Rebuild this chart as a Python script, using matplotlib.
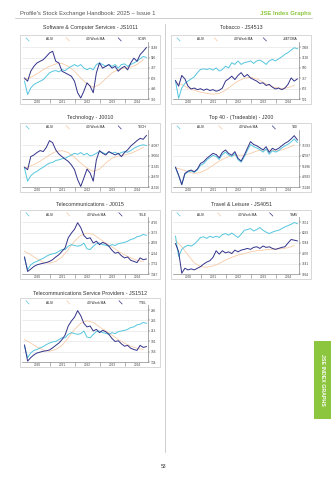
import numpy as np
import matplotlib
matplotlib.use('Agg')
import matplotlib.pyplot as plt
from matplotlib.lines import Line2D
from matplotlib.patches import Rectangle
from matplotlib.legend_handler import HandlerBase
from matplotlib.ticker import FixedLocator, NullLocator

plt.rcParams['font.family'] = ['Liberation Sans', 'DejaVu Sans']

W, H = 331, 480

# sample dates (decimal years), ~every 6.5 weeks; MA every quarter
dates = np.arange(2020.0, 2024.9, 0.125)
ma_dates = np.arange(2020.0, 2024.9, 0.25)
years = [2020, 2021, 2022, 2023, 2024]

# Software & Computer Services - JS1011
soft_ticks = [392, 486, 603, 747, 926, 1148]
soft_idx = [606, 568, 698, 772, 829, 858, 887, 948, 1019, 1055,
            858, 829, 698, 675, 652, 629, 568, 447, 401, 462,
            549, 512, 447, 675, 829, 744, 772, 801, 744, 772,
            698, 744, 772, 718, 829, 915, 858, 984, 1055, 1141]
soft_alsi = [568, 431, 493, 530, 549, 568, 587, 629, 675, 698,
             707, 689, 721, 707, 744, 772, 801, 772, 801, 744,
             721, 744, 721, 801, 829, 801, 772, 801, 772, 801,
             744, 801, 813, 772, 801, 829, 858, 905, 948, 928]
soft_ma = [587, 615, 661, 721, 772, 813, 819, 772, 698, 606,
           537, 500, 530, 597, 675, 721, 744, 761, 801, 887]

# Tobacco - JS4513
toba_ticks = [521, 632, 767, 930, 1128, 1368]
toba_idx = [736, 663, 809, 759, 663, 629, 640, 621, 632, 614,
            629, 611, 621, 603, 614, 640, 728, 759, 798, 749,
            809, 852, 788, 824, 772, 749, 728, 697, 706, 671,
            685, 650, 629, 640, 621, 640, 685, 772, 728, 759]
toba_alsi = [728, 528, 640, 697, 728, 759, 788, 852, 904, 914,
             904, 920, 893, 930, 878, 904, 962, 930, 1025, 993,
             1059, 993, 1025, 1039, 1059, 1013, 1059, 1077, 1039, 993,
             1059, 1090, 1059, 1102, 1142, 1198, 1236, 1298, 1354, 1330]
toba_ma = [706, 685, 640, 614, 593, 579, 571, 579, 614, 671,
           728, 767, 783, 759, 714, 671, 645, 635, 645, 671]

# Technology - J0010
tech_ticks = [21316, 25870, 31345, 38004, 46087]
tech_idx = [30743, 29374, 37338, 38489, 40267, 41722, 40995, 44309, 50106, 48243,
            42287, 39216, 37338, 35673, 34208, 32078, 29374, 24458, 21589, 25187,
            29703, 27622, 23775, 35207, 41722, 39701, 38489, 40995, 39701, 38489,
            39701, 37338, 40267, 42287, 45360, 47655, 50106, 52262, 51379, 55086]
tech_alsi = [30250, 23775, 26253, 27622, 28498, 29703, 30743, 32078, 33143, 33542,
             34808, 35207, 35873, 36273, 37338, 38489, 39701, 38974, 40267, 38489,
             39701, 37737, 38489, 39701, 40995, 40267, 39216, 40510, 39701, 40510,
             39216, 40267, 40995, 40510, 41722, 43581, 44794, 45845, 46381, 45845]
tech_ma = [30250, 31478, 33143, 35673, 38489, 40995, 41722, 40267, 36872, 33143,
           30250, 28498, 29703, 33143, 36273, 37737, 38489, 39701, 41722, 44309]

# Top 40 - (Tradeable) - J200
t40_ticks = [35248, 42683, 51686, 62587, 75783]
t40_idx = [50696, 43763, 36884, 45204, 47185, 48085, 46645, 48985, 54302, 56046,
           59535, 62369, 65226, 63907, 60189, 66546, 69449, 65226, 63115, 67338,
           59535, 56700, 63115, 71560, 80896, 76742, 74991, 72352, 69449, 73668,
           66546, 71560, 69449, 71560, 74991, 78340, 80896, 85050, 90163, 83452]
t40_alsi = [50336, 43583, 36735, 44664, 46464, 47365, 46105, 48265, 52558, 54084,
            57681, 60407, 62851, 61714, 58444, 63907, 66810, 63247, 61496, 64962,
            58226, 55501, 61278, 68921, 76582, 73800, 72088, 69845, 66810, 70768,
            64170, 68525, 66810, 68525, 72088, 74727, 77061, 80578, 85050, 79778]
t40_ma = [50066, 48625, 46645, 45204, 46105, 48625, 52558, 56700, 60189, 62369,
          63115, 63115, 65226, 68129, 69449, 69449, 68129, 69449, 72352, 75783]

# Telecommunications - J0015
tele_ticks = [1347, 1731, 2224, 2858, 3673, 4720]
tele_idx = [2037, 1435, 1520, 1620, 1685, 1720, 1751, 1780, 1830, 1908,
            2037, 2150, 2338, 2541, 3241, 3624, 3977, 4657, 4144, 3429,
            3168, 3241, 2852, 2980, 2744, 2899, 2807, 2642, 2395, 2230,
            2275, 2101, 1992, 2037, 1879, 1830, 1780, 1992, 1908, 1943]
tele_alsi = [1992, 1497, 1685, 1780, 1830, 1908, 1973, 2071, 2150, 2199,
             2230, 2338, 2440, 2440, 2642, 2744, 2687, 2642, 2687, 2852,
             2478, 2440, 2642, 2807, 2852, 2744, 2706, 2642, 2744, 2687,
             2807, 2852, 2899, 2980, 3111, 3168, 3323, 3380, 3510, 3429]
tele_ma = [2338, 2150, 1943, 1800, 1751, 1830, 2037, 2440, 2980, 3429,
           3624, 3510, 3168, 2852, 2604, 2338, 2150, 1992, 1879, 1830]

# Travel & Leisure - JS4051
trav_ticks = [3034, 3641, 4370, 5244, 6293, 7551]
trav_idx = [5183, 4500, 3080, 3362, 3265, 3325, 3265, 3362, 3459, 3617,
            3750, 3838, 4071, 4571, 4305, 4571, 4405, 4484, 4348, 4623,
            4484, 4623, 4685, 4763, 4685, 4851, 4903, 4763, 4964, 4851,
            4903, 4763, 4685, 4763, 4851, 4903, 5235, 5569, 5506, 5433]
trav_alsi = [5905, 4122, 4685, 4903, 5043, 4964, 5130, 5433, 5769, 5842,
             5674, 5905, 5769, 5905, 5769, 6073, 6178, 6010, 6241, 6010,
             5769, 6104, 6545, 6633, 6746, 6469, 6633, 6872, 6545, 6343,
             6178, 6343, 6469, 6545, 6746, 6947, 7111, 7274, 7513, 7350]
trav_ma = [5506, 4903, 4239, 3699, 3459, 3422, 3495, 3656, 3889, 4071,
           4239, 4348, 4484, 4571, 4623, 4685, 4711, 4737, 4824, 5016]

# Telecommunications Service Providers - JS1512
tsp_ticks = [134, 156, 181, 211, 246, 286]
tsp_idx = [172, 136, 143, 149, 153, 155, 157, 158, 160, 165,
           171, 177, 186, 199, 227, 244, 258, 284, 264, 236,
           224, 227, 211, 216, 206, 213, 209, 201, 189, 181,
           183, 175, 169, 171, 164, 161, 159, 171, 166, 168]
tsp_alsi = [169, 143, 153, 159, 161, 165, 168, 173, 177, 180,
            181, 186, 191, 191, 201, 206, 203, 201, 203, 211,
            193, 191, 201, 209, 211, 206, 204, 201, 206, 203,
            209, 211, 213, 216, 222, 224, 231, 233, 239, 236]
tsp_ma = [186, 177, 167, 160, 157, 161, 171, 191, 216, 236,
          245, 239, 224, 211, 199, 186, 177, 169, 164, 161]

ALSI_COL = '#55c6de'
MA_COL = '#f7c6a0'
IDX_COL = '#32328a'
GREEN = '#8cc63f'


class DiagHandler(HandlerBase):
    # legend sample drawn as a short diagonal stroke
    def create_artists(self, legend, orig, xd, yd, w, h, fontsize, trans):
        x0, y0 = -xd, -yd
        ln = Line2D([x0 + w * 0.2, x0 + w * 0.8], [y0 + h * 1.2, y0 - h * 0.2],
                    color=orig.get_color(), lw=0.5, transform=trans)
        return [ln]


fig = plt.figure(figsize=(W / 100, H / 100), dpi=100)


def fx(x):
    return x / W


def fy(y):
    return 1 - y / H


def draw_chart(left, top, title, title_y, code, ticks, idx, alsi, ma, top_pad):
    bw, bh = 140, 69
    fig.patches.append(Rectangle((fx(left), fy(top + bh)), bw / W, bh / H,
                                 transform=fig.transFigure, fill=False,
                                 ec='#c8c8c8', lw=0.5))
    fig.text(fx(left + bw / 2), fy(title_y), title, ha='center', va='center',
             fontsize=3.8, color='#333333')

    ax = fig.add_axes([fx(left + 2), fy(top + 64.3), 126 / W, 57.3 / H])
    l_ma, = ax.plot(ma_dates, ma, color=MA_COL, lw=0.55)
    l_alsi, = ax.plot(dates, alsi, color=ALSI_COL, lw=0.7)
    l_idx, = ax.plot(dates, idx, color=IDX_COL, lw=0.7)

    ax.set_yscale('log')
    r = ticks[-1] / ticks[-2]
    ax.set_ylim(ticks[0] / r ** 0.02, ticks[-1] * r ** top_pad)
    ax.set_xlim(2019.9, 2024.94)
    ax.yaxis.set_major_locator(FixedLocator(ticks))
    ax.yaxis.set_minor_locator(NullLocator())
    ax.set_yticklabels([str(t) for t in ticks])
    ax.yaxis.tick_right()
    ax.tick_params(axis='y', labelsize=2.3, length=1.2, width=0.3, pad=1,
                   colors='#444444')

    ax.set_xticks([2021, 2022, 2023, 2024])
    ax.set_xticklabels([])
    ax.set_xticks([y + 0.5 for y in years], minor=True)
    ax.set_xticklabels([str(y) for y in years], minor=True)
    ax.tick_params(axis='x', which='major', length=3, width=0.4,
                   color='#777777', direction='out')
    ax.tick_params(axis='x', which='minor', length=0, labelsize=2.3, pad=0.8,
                   colors='#444444')

    ax.grid(axis='y', color='#e0e0e0', lw=0.4)
    ax.set_axisbelow(True)
    for s in ['left', 'top']:
        ax.spines[s].set_visible(False)
    for s in ['right', 'bottom']:
        ax.spines[s].set_color('#888888')
        ax.spines[s].set_linewidth(0.5)

    ax.legend([l_alsi, l_ma, l_idx], ['ALSI', '40 Week MA', code],
              handler_map={Line2D: DiagHandler()},
              loc='lower left', ncol=3, mode='expand', frameon=False,
              bbox_to_anchor=(fx(left + 5), fy(top + 6.5), 122 / W, 5 / H),
              bbox_transform=fig.transFigure, fontsize=2.3,
              handlelength=1.6, handletextpad=5, borderpad=0,
              borderaxespad=0, labelcolor='#222222')
    return ax


draw_chart(20, 35, 'Software & Computer Services - JS1011', 27.5, 'SCSR',
           soft_ticks, soft_idx, soft_alsi, soft_ma, 0.5)
draw_chart(171, 35, 'Tobacco - JS4513', 27.5, 'JSETOBA',
           toba_ticks, toba_idx, toba_alsi, toba_ma, 0.5)
draw_chart(20, 123, 'Technology - J0010', 117, 'TECH',
           tech_ticks, tech_idx, tech_alsi, tech_ma, 1.45)
draw_chart(171, 123, 'Top 40 - (Tradeable) - J200', 117, 'T40',
           t40_ticks, t40_idx, t40_alsi, t40_ma, 1.45)
draw_chart(20, 210, 'Telecommunications - J0015', 205, 'TELE',
           tele_ticks, tele_idx, tele_alsi, tele_ma, 0.5)
draw_chart(171, 210, 'Travel & Leisure - JS4051', 205, 'TRAV',
           trav_ticks, trav_idx, trav_alsi, trav_ma, 0.5)
draw_chart(20, 298, 'Telecommunications Service Providers - JS1512', 293.5, 'TTEL',
           tsp_ticks, tsp_idx, tsp_alsi, tsp_ma, 0.5)

# page furniture
fig.text(fx(20), fy(13), "Profile's Stock Exchange Handbook: 2025 \u2013 Issue 1",
         ha='left', va='center', fontsize=4.2, color='#555555')
fig.text(fx(311), fy(13), 'JSE Index Graphs', ha='right', va='center',
         fontsize=4.3, color=GREEN, fontweight='bold')
fig.add_artist(Line2D([fx(15), fx(312)], [fy(17.5), fy(17.5)],
                      transform=fig.transFigure, color='#aaaaaa', lw=0.4))
fig.add_artist(Line2D([fx(165), fx(165)], [fy(24), fy(452)],
                      transform=fig.transFigure, color='#bbbbbb', lw=0.5))
fig.patches.append(Rectangle((fx(314), fy(419)), 17 / W, 78 / H,
                             transform=fig.transFigure, color=GREEN, lw=0))
fig.text(fx(322.5), fy(380), 'JSE INDEX GRAPHS', rotation=-90, ha='center',
         va='center', fontsize=3.8, color='white', fontweight='bold')
fig.text(fx(164), fy(466), '53', ha='center', va='center', fontsize=3.6,
         color='#333333')

fig.savefig('out.png', dpi=100)
